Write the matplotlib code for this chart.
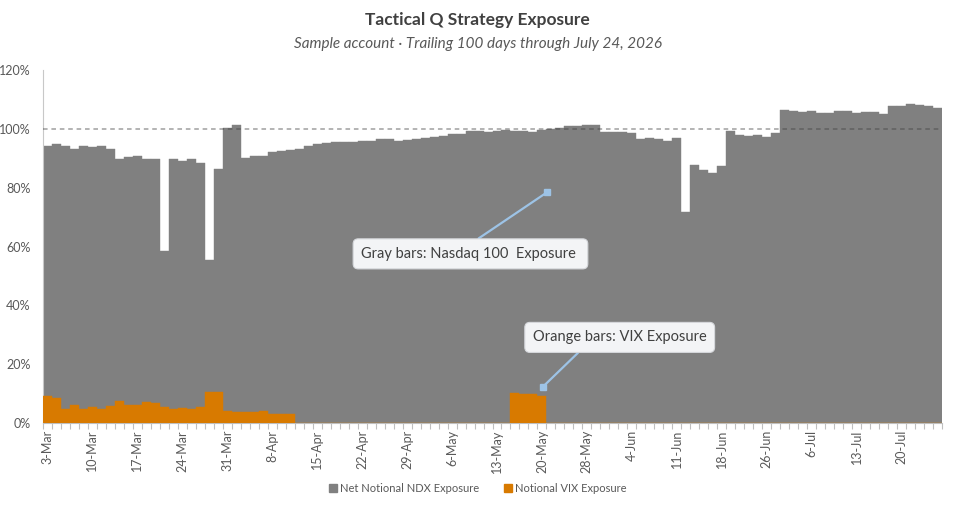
import matplotlib
matplotlib.use('Agg')
import matplotlib.pyplot as plt
from matplotlib.ticker import FuncFormatter, FixedLocator
from matplotlib.lines import Line2D
import numpy as np

# daily exposures in percent, 100 trading days (3-Mar .. 24-Jul)
ndx_exposure = [
  94.0, 95.0, 94.3, 93.1, 94.2, 93.9, 94.1, 93.1, 89.6, 90.4,
  90.7, 89.7, 89.7, 58.5, 89.7, 89.2, 89.6, 88.3, 55.3, 86.2,
  100.4, 101.2, 90.0, 90.9, 90.9, 92.2, 92.6, 92.9, 93.3, 94.0,
  94.7, 95.1, 95.6, 95.5, 95.4, 95.9, 95.8, 96.4, 96.5, 96.0,
  96.3, 96.7, 97.0, 97.1, 97.5, 98.4, 98.4, 99.2, 99.4, 99.0,
  99.4, 99.7, 99.2, 99.2, 98.8, 99.7, 100.0, 100.3, 100.8, 100.8,
  101.2, 101.2, 98.9, 98.9, 98.8, 98.5, 96.5, 97.0, 96.6, 95.8,
  97.0, 71.8, 87.6, 86.1, 85.1, 87.2, 99.1, 97.8, 97.5, 97.8,
  97.3, 98.5, 106.5, 105.9, 105.6, 106.0, 105.3, 105.3, 106.0, 106.0,
  105.3, 105.7, 105.6, 105.0, 107.7, 107.7, 108.4, 108.2, 107.6, 107.0,
]
vix_exposure = [
  9.1, 8.4, 4.8, 6.1, 4.9, 5.4, 4.9, 5.7, 7.5, 6.2,
  6.1, 7.1, 6.9, 5.4, 4.8, 5.1, 4.8, 5.6, 10.7, 10.4,
  4.2, 3.9, 3.9, 3.6, 4.0, 3.0, 2.9, 2.9, 0, 0,
  0, 0, 0, 0, 0, 0, 0, 0, 0, 0,
  0, 0, 0, 0, 0, 0, 0, 0, 0, 0,
  0, 0, 10.1, 9.8, 9.8, 9.3, 0, 0, 0, 0,
  0, 0, 0, 0, 0, 0, 0, 0, 0, 0,
  0, 0, 0, 0, 0, 0, 0, 0, 0, 0,
  0, 0, 0, 0, 0, 0, 0, 0, 0, 0,
  0, 0, 0, 0, 0, 0, 0, 0, 0, 0,
]
# every fifth day gets a label
tick_labels = ['3-Mar', '10-Mar', '17-Mar', '24-Mar', '31-Mar', '8-Apr', '15-Apr',
  '22-Apr', '29-Apr', '6-May', '13-May', '20-May', '28-May', '4-Jun', '11-Jun',
  '18-Jun', '26-Jun', '6-Jul', '13-Jul', '20-Jul']

GRAY = '#808080'
ORANGE = '#D87A00'
TEXT = '#595959'

plt.rcParams['font.family'] = ['Lato', 'DejaVu Sans']

fig = plt.figure(figsize=(9.55, 5.07), dpi=100)
ax = fig.add_axes([43 / 955, 1 - 423 / 507, (942 - 43) / 955, (423 - 70) / 507])

x = np.arange(len(ndx_exposure))
ax.bar(x, ndx_exposure, width=1.0, color=GRAY, edgecolor=GRAY, linewidth=0.3, zorder=2)
ax.bar(x, vix_exposure, width=1.0, color=ORANGE, edgecolor=ORANGE, linewidth=0.3, zorder=3)

# 100% reference line
ax.axhline(100, color='#404040', alpha=0.5, lw=1.1, ls=(0, (3, 2.5)), zorder=4)

ax.set_xlim(-0.5, len(x) - 0.5)
ax.set_ylim(0, 120)
ax.set_yticks(np.arange(0, 121, 20))
ax.yaxis.set_major_formatter(FuncFormatter(lambda v, p: '{:.0f}%'.format(v)))
ax.tick_params(axis='y', length=0, pad=9, labelsize=9, labelcolor=TEXT)

ax.xaxis.set_major_locator(FixedLocator(x[::5]))
ax.set_xticklabels(tick_labels, rotation=90)
ax.xaxis.set_minor_locator(FixedLocator(np.arange(-0.5, len(x), 1.0)))
ax.tick_params(axis='x', which='major', length=0, pad=5, labelsize=9, labelcolor=TEXT)
ax.tick_params(axis='x', which='minor', length=4, color='#bfbfbf', width=0.8)

for s in ['top', 'right']:
  ax.spines[s].set_visible(False)
ax.spines['left'].set_color('#c8c8c8')
ax.spines['bottom'].set_color('#bfbfbf')

# callouts
box = dict(boxstyle='round,pad=0.55,rounding_size=0.35', fc='#f3f4f6', ec='#d6d8dc', lw=0.8)
line = dict(arrowstyle='-', color='#9dc3e6', lw=1.6, shrinkA=0, shrinkB=0)
ax.annotate('Gray bars: Nasdaq 100  Exposure ', xy=(55.6, 78.5), xytext=(47.05, 57.5),
  ha='center', va='center', fontsize=10.5, color='#404040', bbox=box,
  arrowprops=dict(line, relpos=(0.48, 1.0)), zorder=6)
ax.annotate('Orange bars: VIX Exposure', xy=(55.1, 12.3), xytext=(63.65, 29.1),
  ha='center', va='center', fontsize=10.5, color='#404040', bbox=box,
  arrowprops=dict(line, relpos=(0.31, 0.0)), zorder=6)
ax.plot([55.6, 55.1], [78.5, 12.3], ls='none', marker='s', ms=4.5, color='#9dc3e6', zorder=7)

fig.text(0.5, 1 - 20 / 507, 'Tactical Q Strategy Exposure', ha='center', va='center',
  fontsize=12.5, fontweight='bold', color='#404040')
fig.text(0.5, 1 - 44 / 507, 'Sample account \u00b7 Trailing 100 days through July 24, 2026',
  ha='center', va='center', fontsize=11, style='italic', color=TEXT)

handles = [
  Line2D([], [], ls='none', marker='s', ms=5.5, color=GRAY),
  Line2D([], [], ls='none', marker='s', ms=5.5, color=ORANGE),
]
fig.legend(handles, ['Net Notional NDX Exposure', 'Notional VIX Exposure'], ncol=2,
  loc='center', bbox_to_anchor=(478 / 955, 1 - 488 / 507), frameon=False, fontsize=8,
  labelcolor=TEXT, handlelength=0.6, handletextpad=0.3, columnspacing=2.3)

fig.savefig('out.png', dpi=100)
